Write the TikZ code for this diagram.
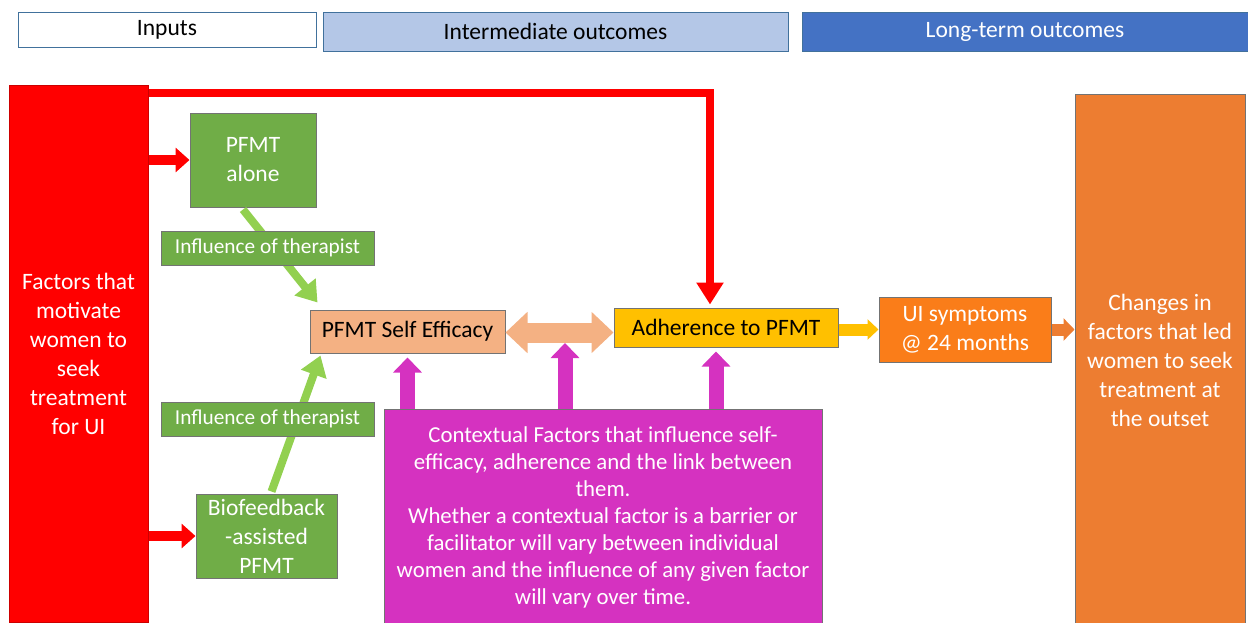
\documentclass[tikz,border=0pt]{standalone}
\usepackage{fontspec}
\setmainfont{Carlito}
\usetikzlibrary{arrows.meta,positioning}
\definecolor{hdrlight}{RGB}{180,199,231}
\definecolor{hdrdark}{RGB}{68,114,196}
\definecolor{hdrline}{RGB}{65,113,156}
\definecolor{motivred}{RGB}{255,0,0}
\definecolor{pfmtgreen}{RGB}{112,173,71}
\definecolor{lightgreen}{RGB}{146,208,80}
\definecolor{peach}{RGB}{244,177,131}
\definecolor{amber}{RGB}{255,192,0}
\definecolor{symorange}{RGB}{250,125,25}
\definecolor{outorange}{RGB}{237,125,49}
\definecolor{ctxmagenta}{RGB}{213,50,192}

\tikzset{
  box/.style={draw=black!55, line width=1pt, inner sep=0pt, align=center},
  hdr/.style={box, draw=hdrline, font=\fontsize{23.5}{27}\selectfont},
  bigtxt/.style={font=\fontsize{23.5}{29}\selectfont},
  greenbox/.style={box, fill=pfmtgreen, text=white, bigtxt},
  inflbox/.style={box, fill=pfmtgreen, text=white, font=\fontsize{21.3}{24}\selectfont,
    minimum width=213pt, minimum height=34pt},
  redarrow/.style={line width=10pt, motivred, -{Triangle[length=14pt,width=24pt]}},
  greenarrow/.style={line width=8pt, lightgreen, -{Triangle[length=20pt,width=26pt]}},
  ctxarrow/.style={line width=15pt, ctxmagenta, -{Triangle[length=15pt,width=28pt]}}
}

\begin{document}
\begin{tikzpicture}[x=1pt,y=-1pt]
  \useasboundingbox (0,0) rectangle (1248,622);
  \clip (0,0) rectangle (1248,622);
  % Column headings
  \node[hdr, fill=white, minimum width=298pt, minimum height=35pt] (inputs) at (167,29.5) {Inputs};
  \node[hdr, fill=hdrlight, minimum width=465pt, minimum height=39pt] (interm) at (555.5,31.5) {Intermediate outcomes};
  \node[hdr, fill=hdrdark, text=white, minimum width=446pt, minimum height=39pt] (longterm) at (1025,31.5) {Long-term outcomes};
  % Inputs
  \node[box, draw=motivred!80!black, fill=motivred, text=white, bigtxt, minimum width=139pt, minimum height=537pt] (factors) at (78.5,353.5)
    {Factors that\\motivate\\women to\\seek\\treatment\\for UI};
  \node[greenbox, minimum width=126pt, minimum height=94pt] (alone) at (253,160) {PFMT\\alone};
  \node[greenbox, minimum width=141pt, minimum height=84pt] (biofb) at (266.5,536) {Biofeedback\\-assisted\\PFMT};
  % Intermediate outcomes
  \node[box, fill=peach, bigtxt, minimum width=195pt, minimum height=43pt] (selfeff) at (407.5,331.5) {PFMT Self Efficacy};
  \node[box, fill=amber, bigtxt, minimum width=224pt, minimum height=39pt] (adher) at (726,327.5) {Adherence to PFMT};
  \node[box, fill=symorange, text=white, bigtxt, minimum width=172pt, minimum height=65pt] (uisym) at (965,329.5) {UI symptoms\\@ 24 months};
  \node[box, fill=ctxmagenta, text=white, font=\fontsize{22.8}{27}\selectfont, minimum width=438pt, minimum height=216pt] (context) at (603,517)
    {Contextual Factors that influence self-\\efficacy, adherence and the link between\\them.\\Whether a contextual factor is a barrier or\\facilitator will vary between individual\\women and the influence of any given factor\\will vary over time.};
  % Long-term outcomes
  \node[box, fill=outorange, text=white, bigtxt, minimum width=170pt, minimum height=532pt] (changes) at (1160,360)
    {Changes in\\factors that led\\women to seek\\treatment at\\the outset};
  % Arrows from the motivating factors
  \draw[redarrow] (factors.east |- alone.west) -- (alone.west);
  \draw[redarrow] (factors.east |- biofb.west) -- (biofb.west);
  \draw[line width=8pt, motivred, -{Triangle[length=22pt,width=26pt]}]
    ([yshift=-8pt]factors.north east) -| ([xshift=-16pt,yshift=3pt]adher.north);
  % Therapist influence
  \draw[greenarrow] ([xshift=-10pt,yshift=-2pt]alone.south) -- ([xshift=8pt,yshift=7pt]selfeff.north west);
  \draw[greenarrow] ([xshift=5pt,yshift=2pt]biofb.north) -- ([xshift=11pt,yshift=-2pt]selfeff.south west);
  \node[inflbox] (infla) at (267.5,248) {Influence of therapist};
  \node[inflbox] (inflb) at (267.5,419) {Influence of therapist};
  % Links between outcomes
  \draw[line width=20pt, peach, {Triangle[length=22pt,width=40pt]}-{Triangle[length=22pt,width=40pt]}]
    ([yshift=-1pt]selfeff.east) -- ([yshift=-1pt]selfeff.east -| adher.west);
  \draw[line width=12pt, amber, -{Triangle[length=11pt,width=20pt]}] ([yshift=-2pt]adher.east) -- ([yshift=-2pt]adher.east -| uisym.west);
  \draw[line width=12pt, outorange, -{Triangle[length=11pt,width=22pt]}] (uisym.east) -- (uisym.east -| changes.west);
  % Contextual factors
  \coordinate (link) at (565,343);
  \draw[ctxarrow] (context.north -| selfeff.south) -- ([yshift=-4pt]selfeff.south);
  \draw[ctxarrow] (context.north -| link) -- (link);
  \draw[ctxarrow] (context.north -| 716,0) -- ([xshift=-10pt,yshift=-4pt]adher.south);
\end{tikzpicture}
\end{document}
